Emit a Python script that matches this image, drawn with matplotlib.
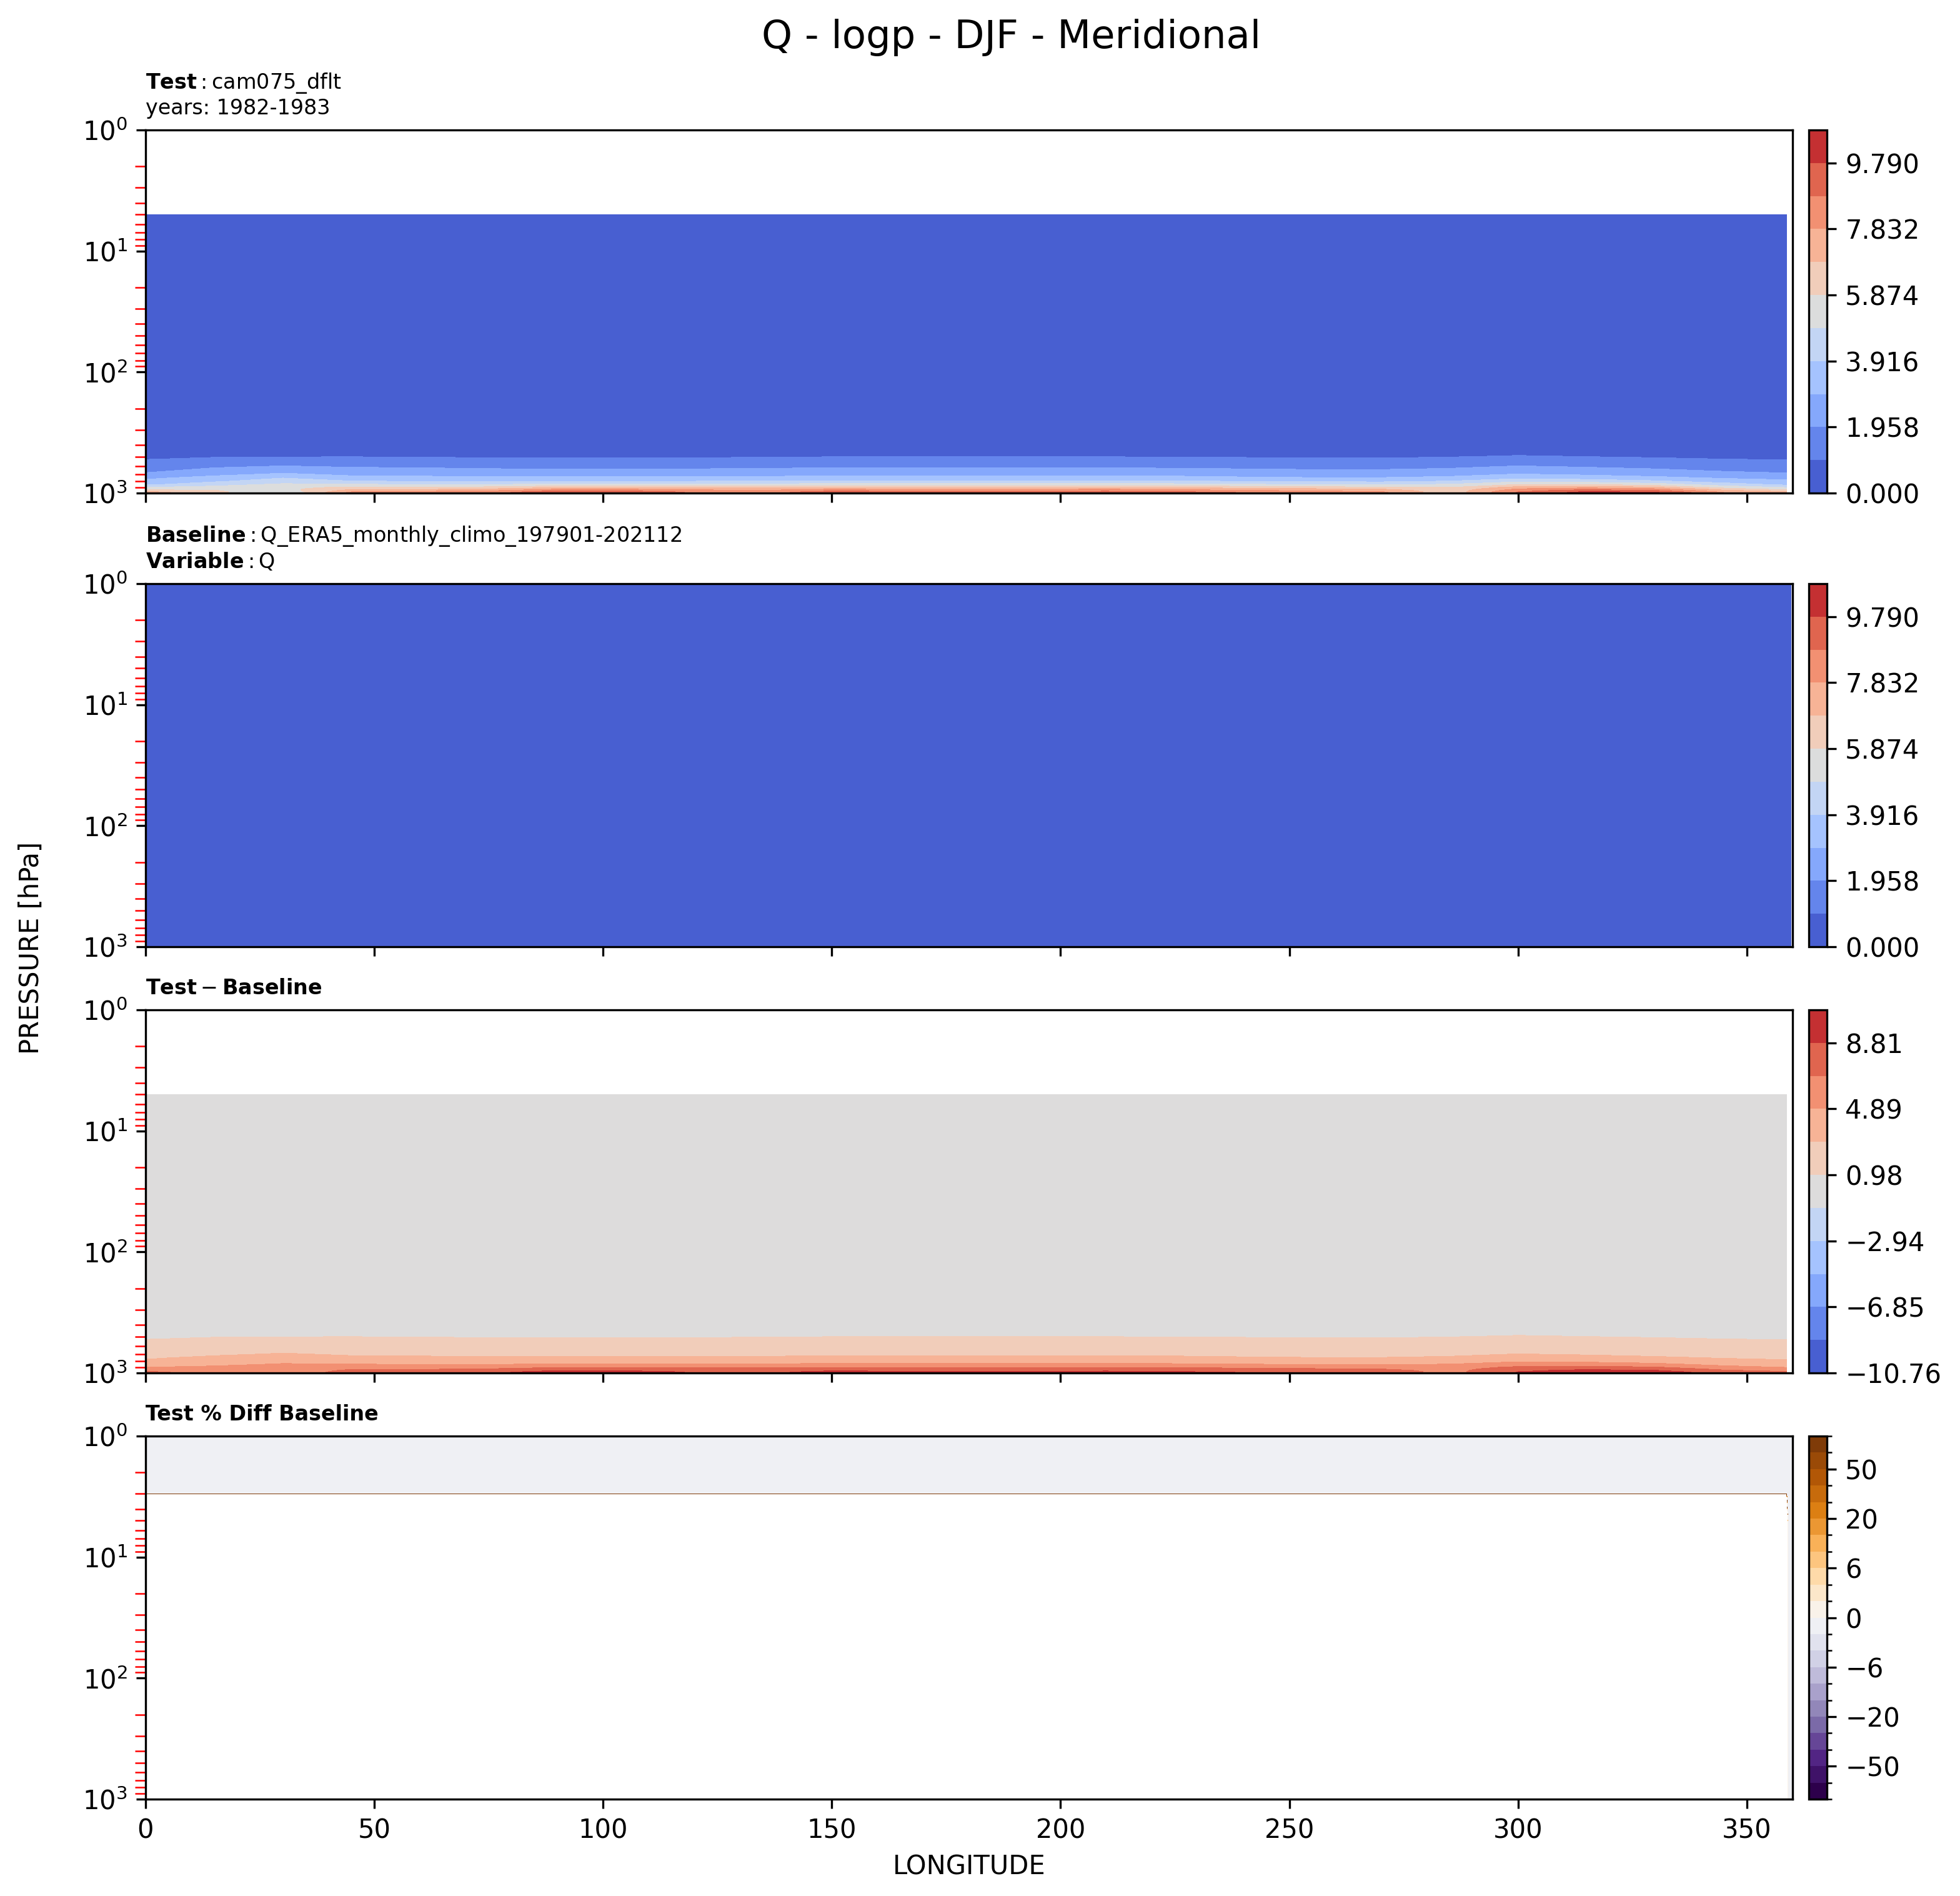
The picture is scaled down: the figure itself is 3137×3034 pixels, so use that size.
import numpy as np
import matplotlib
matplotlib.use('Agg')
import matplotlib.pyplot as plt
import matplotlib.colors as mcolors

# ---- test case (cam075_dflt), meridional mean Q in g/kg ----
test_lon = [0, 15, 30, 45, 60, 75, 90, 105, 120, 135, 150, 165, 180,
            195, 210, 225, 240, 255, 270, 285, 300, 315, 330, 345, 358.75]
test_lev = [5, 7, 10, 20, 30, 50, 70, 100, 150, 200, 250, 300, 400,
            500, 600, 700, 750, 800, 850, 900, 925, 950, 975, 1000]

# 5 ... 400 hPa, nearly the same at every longitude
q_upper = [0.0030, 0.0030, 0.0030, 0.0028, 0.0027, 0.0026, 0.0026,
           0.0035, 0.012, 0.035, 0.08, 0.16, 0.42]
# lower troposphere, one list per level (values along test_lon)
q_500 = [0.80, 0.92, 0.95, 0.97, 0.93, 0.90, 0.90, 0.90, 0.90, 0.93, 0.97, 0.97, 0.97,
         0.97, 0.97, 0.95, 0.92, 0.88, 0.88, 0.95, 1.05, 0.98, 0.90, 0.82, 0.78]
q_600 = [1.45, 1.80, 2.00, 1.85, 1.80, 1.70, 1.70, 1.70, 1.70, 1.75, 1.80, 1.80, 1.80,
         1.80, 1.80, 1.75, 1.70, 1.65, 1.65, 1.75, 2.00, 1.85, 1.70, 1.50, 1.42]
q_700 = [2.10, 2.70, 3.10, 2.75, 2.70, 2.60, 2.55, 2.55, 2.55, 2.60, 2.70, 2.70, 2.70,
         2.70, 2.70, 2.65, 2.55, 2.45, 2.45, 2.60, 3.00, 2.80, 2.55, 2.25, 2.08]
q_750 = [2.75, 3.30, 3.90, 3.25, 3.20, 3.10, 3.15, 3.15, 3.15, 3.20, 3.30, 3.30, 3.30,
         3.30, 3.30, 3.25, 3.10, 3.00, 3.00, 3.20, 3.70, 3.50, 3.20, 2.85, 2.70]
q_800 = [3.20, 3.80, 4.40, 4.00, 3.90, 3.90, 3.95, 3.95, 3.95, 4.00, 4.10, 4.10, 4.10,
         4.10, 4.10, 4.05, 3.90, 3.80, 3.75, 4.00, 4.70, 4.50, 4.10, 3.50, 3.15]
q_850 = [3.75, 4.50, 5.10, 5.00, 4.90, 4.90, 5.10, 5.10, 5.00, 5.10, 5.30, 5.30, 5.30,
         5.30, 5.30, 5.20, 5.00, 4.90, 4.80, 5.00, 5.90, 5.90, 5.40, 4.40, 3.70]
q_900 = [4.95, 5.30, 5.60, 6.10, 6.00, 6.20, 6.80, 6.80, 6.60, 6.60, 6.90, 6.90, 6.90,
         6.90, 6.90, 6.80, 6.50, 6.30, 6.10, 5.90, 7.30, 7.60, 7.10, 5.60, 4.90]
q_925 = [5.50, 5.60, 5.60, 6.60, 6.60, 6.90, 7.70, 7.70, 7.40, 7.30, 7.70, 7.60, 7.60,
         7.60, 7.70, 7.50, 7.20, 7.00, 6.80, 6.10, 7.90, 8.40, 8.00, 6.30, 5.45]
q_950 = [6.20, 5.90, 5.40, 7.20, 7.30, 7.60, 8.60, 8.50, 8.10, 7.90, 8.50, 8.30, 8.30,
         8.30, 8.40, 8.20, 7.90, 7.60, 7.40, 6.20, 8.40, 9.20, 8.80, 7.00, 6.15]
q_975 = [7.00, 6.10, 5.00, 7.80, 8.10, 8.20, 9.40, 9.30, 8.60, 8.30, 9.20, 9.00, 9.00,
         9.00, 9.10, 8.90, 8.50, 8.20, 7.90, 6.20, 8.80, 9.90, 9.60, 7.60, 6.95]
q_1000 = [7.60, 6.20, 4.60, 8.40, 8.90, 8.60, 10.00, 9.90, 8.80, 8.50, 9.85, 9.50, 9.60,
          9.50, 9.70, 9.40, 9.00, 8.60, 8.20, 6.00, 9.00, 10.40, 10.20, 8.00, 7.55]

# ---- baseline (ERA5 climo, kg/kg), zonally uniform profile ----
base_lon = test_lon + [359.0, 359.75]
base_lev = [1, 2, 3] + test_lev
base_q = [3.0e-6, 3.0e-6, 3.0e-6, 3.0e-6, 3.0e-6, 3.0e-6, 2.8e-6, 2.7e-6, 2.6e-6,
          2.6e-6, 3.5e-6, 1.2e-5, 3.5e-5, 8.0e-5, 1.6e-4, 4.2e-4, 9.3e-4, 1.73e-3,
          2.59e-3, 3.11e-3, 3.93e-3, 5.11e-3, 6.48e-3, 7.36e-3, 8.06e-3, 8.62e-3, 8.95e-3]
pct_missing = -1.0   # % diff where the test case has no data

q_levels = np.linspace(0.0, 10.769, 12)
diff_levels = np.linspace(-10.763, 10.763, 12)
pct_levels = [-100, -75, -50, -40, -30, -20, -10, -8, -6, -4, -2, 0,
              2, 4, 6, 8, 10, 20, 30, 40, 50, 75, 100]

# ---- build fields ----
nlon = len(test_lon)
q_test = np.vstack([np.full((len(q_upper), nlon), np.array(q_upper)[:, None]),
                    np.array([q_500, q_600, q_700, q_750, q_800, q_850,
                              q_900, q_925, q_950, q_975, q_1000])])
base_grid = np.repeat(np.array(base_q)[:, None], len(base_lon), axis=1)
base_on_test = base_grid[3:, :nlon]
q_diff = q_test - base_on_test

test_on_base = np.full(base_grid.shape, np.nan)
test_on_base[3:, :nlon] = q_test
pct = (test_on_base - base_grid) / base_grid * 100.0
pct[np.isnan(pct)] = pct_missing

# ---- figure ----
W, H, DPI = 3137, 3034, 300
fig = plt.figure(figsize=(W / DPI, H / DPI), dpi=DPI)

ax_left, ax_w = 233 / W, 2636 / W
cb_left, cb_w = 2895 / W, 29 / W
tops = [208, 934, 1616, 2298]
ax_h = 581 / H

q_norm = mcolors.Normalize(vmin=q_levels[0], vmax=q_levels[-1])
d_norm = mcolors.Normalize(vmin=diff_levels[0], vmax=diff_levels[-1])
p_norm = mcolors.BoundaryNorm(pct_levels, ncolors=256)

panels = [
    (test_lon, test_lev, q_test, q_levels, 'coolwarm', q_norm,
     "$\\mathbf{Test}:$cam075_dflt\nyears: 1982-1983", 'normal'),
    (base_lon, base_lev, base_grid, q_levels, 'coolwarm', q_norm,
     "$\\mathbf{Baseline}:$Q_ERA5_monthly_climo_197901-202112\n$\\mathbf{Variable}:$Q", 'normal'),
    (test_lon, test_lev, q_diff, diff_levels, 'coolwarm', d_norm,
     "$\\mathbf{Test} - \\mathbf{Baseline}$", 'normal'),
    (base_lon, base_lev, pct, pct_levels, 'PuOr_r', p_norm,
     "Test % Diff Baseline", 'bold'),
]

axes = []
for i, (lon, lev, field, lvls, cmap, norm, title, weight) in enumerate(panels):
    bottom = 1 - (tops[i] / H) - ax_h
    ax = fig.add_axes([ax_left, bottom, ax_w, ax_h])
    cax = fig.add_axes([cb_left, bottom, cb_w, ax_h])
    cf = ax.contourf(lon, lev, field, levels=lvls, cmap=cmap, norm=norm)
    fig.colorbar(cf, cax=cax)
    cax.tick_params(labelsize=10)

    ax.set_yscale('log')
    ax.set_ylim(1000, 1)
    ax.set_xlim(0, 360)
    ax.set_xticks(np.arange(0, 351, 50))
    ax.tick_params(axis='both', labelsize=10)
    ax.tick_params(axis='y', which='minor', color='red', length=4)
    ax.set_title(title, loc='left', fontsize=8, fontweight=weight)
    if i < 3:
        ax.tick_params(axis='x', labelbottom=False)
    axes.append(ax)

axes[-1].set_xlabel('LONGITUDE', fontsize=10)
fig.text(50 / W, 0.5, 'PRESSURE [hPa]', rotation=90, ha='center', va='center', fontsize=10)
fig.text(0.516, 1 - 77 / H, 'Q - logp - DJF - Meridional', ha='center', va='baseline', fontsize=15)

fig.savefig('out.png', dpi=DPI)
